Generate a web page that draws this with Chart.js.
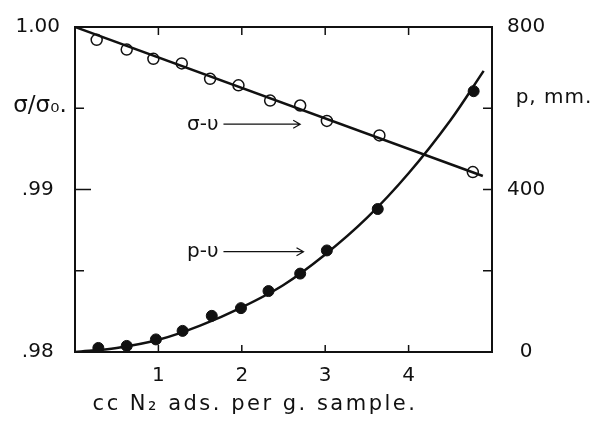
<!DOCTYPE html>
<html lang="en">
<head>
  <meta charset="UTF-8" />
  <title>Surface tension ratio and pressure vs N2 adsorbed</title>
  <script src="https://cdn.jsdelivr.net/npm/chart.js"></script>
  <style>
    body { margin: 0; background: #fff; }
    #wrap { width: 599px; height: 426px; }
  </style>
</head>
<body>
  <div id="wrap"><canvas id="c" width="599" height="426"></canvas></div>
  <script>
    // open circles: sigma/sigma0 vs v
    const sigmaX = [0.26, 0.62, 0.94, 1.28, 1.62, 1.96, 2.34, 2.70, 3.02, 3.65, 4.77];
    const sigmaY = [0.99921, 0.99861, 0.99804, 0.99776, 0.99681, 0.99641, 0.99547, 0.99517, 0.99422, 0.99333, 0.99107];
    // straight fitted line
    const sigmaLineX = [0, 4.89];
    const sigmaLineY = [1.0, 0.99083];

    // filled circles: p (mm) vs v
    const pX = [0.28, 0.62, 0.97, 1.29, 1.64, 1.99, 2.32, 2.70, 3.02, 3.63, 4.78];
    const pY = [10, 15, 31, 52, 89, 108, 150, 193, 250, 352, 642];
    // smooth curve
    const pCurveX = [0, 0.5, 1.0, 1.5, 2.0, 2.5, 3.0, 3.5, 4.0, 4.5, 4.9];
    const pCurveY = [0, 10, 30, 65, 110, 165, 240, 330, 440, 570, 692];

    const xTicks = [1, 2, 3, 4];
    const leftTicks = [0.98, 0.99, 1.0];
    const rightTicks = [0, 400, 800];

    const FONT = "'DejaVu Sans', sans-serif";
    const INK = '#111';

    const pts = (xs, ys) => xs.map((x, i) => ({ x, y: ys[i] }));

    const decor = {
      id: 'decor',
      afterDraw(chart) {
        const { ctx, chartArea: a, scales } = chart;
        const sx = scales.x, sl = scales.y, sr = scales.y2;
        ctx.save();
        ctx.strokeStyle = INK;
        ctx.lineWidth = 2;
        ctx.strokeRect(a.left, a.top, a.right - a.left, a.bottom - a.top);

        ctx.lineWidth = 1.5;
        ctx.beginPath();
        xTicks.forEach(v => {
          const px = sx.getPixelForValue(v);
          ctx.moveTo(px, a.bottom); ctx.lineTo(px, a.bottom - 7);
          ctx.moveTo(px, a.top); ctx.lineTo(px, a.top + 8);
        });
        [[0.985, 9], [0.99, 16], [0.995, 9]].forEach(([v, len]) => {
          const py = sl.getPixelForValue(v);
          ctx.moveTo(a.left, py); ctx.lineTo(a.left + len, py);
        });
        [200, 400, 600].forEach(v => {
          const py = sr.getPixelForValue(v);
          ctx.moveTo(a.right, py); ctx.lineTo(a.right - 9, py);
        });
        ctx.stroke();

        // label arrows
        const arrow = (x1, x2, py) => {
          ctx.lineWidth = 1.2;
          ctx.beginPath();
          ctx.moveTo(x1, py); ctx.lineTo(x2, py);
          ctx.moveTo(x2 - 7, py - 4); ctx.lineTo(x2, py); ctx.lineTo(x2 - 7, py + 4);
          ctx.stroke();
        };
        const ySig = sl.getPixelForValue(0.99402);
        arrow(sx.getPixelForValue(1.78), sx.getPixelForValue(2.70), ySig);
        const yP = sr.getPixelForValue(247);
        arrow(sx.getPixelForValue(1.78), sx.getPixelForValue(2.74), yP);

        ctx.fillStyle = INK;
        ctx.textBaseline = 'middle';
        ctx.textAlign = 'right';
        ctx.font = '20px ' + FONT;
        ctx.fillText('σ-υ', sx.getPixelForValue(1.72), ySig + 1);
        ctx.fillText('p-υ', sx.getPixelForValue(1.72), yP);

        ctx.textAlign = 'center';
        ctx.font = '23px ' + FONT;
        ctx.fillText('σ/σ₀.', 40, 106);
        ctx.font = '20px ' + FONT;
        ctx.letterSpacing = '1px';
        ctx.fillText('p, mm.', 554, 98);
        ctx.font = '21px ' + FONT;
        ctx.letterSpacing = '2.5px';
        ctx.fillText('cc N₂ ads. per g. sample.', 255, 405);
        ctx.restore();
      }
    };

    new Chart(document.getElementById('c'), {
      type: 'scatter',
      data: {
        datasets: [
          { type: 'line', data: pts(sigmaLineX, sigmaLineY), yAxisID: 'y', borderColor: INK, borderWidth: 2.5, pointRadius: 0, fill: false },
          { data: pts(sigmaX, sigmaY), yAxisID: 'y', pointRadius: 5.5, pointBackgroundColor: '#fff', pointBorderColor: INK, pointBorderWidth: 1.5 },
          { type: 'line', data: pts(pCurveX, pCurveY), yAxisID: 'y2', borderColor: INK, borderWidth: 2.5, pointRadius: 0, fill: false, tension: 0.35 },
          { data: pts(pX, pY), yAxisID: 'y2', pointRadius: 5.5, pointBackgroundColor: INK, pointBorderColor: INK, pointBorderWidth: 1 }
        ]
      },
      options: {
        responsive: false,
        animation: false,
        layout: { padding: { top: 22, left: 0, right: 0, bottom: 0 } },
        plugins: { legend: { display: false }, tooltip: { enabled: false } },
        scales: {
          x: {
            type: 'linear', min: 0, max: 5,
            grid: { display: false, drawTicks: false },
            border: { display: false },
            afterFit: s => { s.height = 74; },
            ticks: {
              stepSize: 1, padding: 12, color: INK,
              font: { family: FONT, size: 20 },
              callback: v => (xTicks.includes(v) ? String(v) : '')
            }
          },
          y: {
            position: 'left', min: 0.98, max: 1.0,
            grid: { display: false, drawTicks: false },
            border: { display: false },
            afterFit: s => { s.width = 75; },
            afterBuildTicks: s => { s.ticks = leftTicks.map(v => ({ value: v })); },
            ticks: {
              padding: 15, crossAlign: 'center', color: INK,
              font: { family: FONT, size: 20 },
              callback: v => (v >= 0.9995 ? '1.00' : v.toFixed(2).replace(/^0/, ''))
            }
          },
          y2: {
            position: 'right', min: 0, max: 800,
            grid: { display: false, drawTicks: false },
            border: { display: false },
            afterFit: s => { s.width = 107; },
            afterBuildTicks: s => { s.ticks = rightTicks.map(v => ({ value: v })); },
            ticks: {
              padding: 15, crossAlign: 'center', color: INK,
              font: { family: FONT, size: 20 }
            }
          }
        }
      },
      plugins: [decor]
    });
  </script>
</body>
</html>
